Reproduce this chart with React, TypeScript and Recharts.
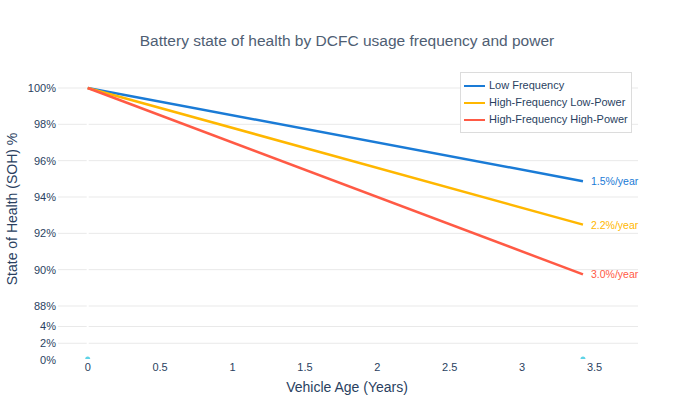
import { LineChart, Line, XAxis, YAxis, CartesianGrid, ReferenceLine } from 'recharts'

// vehicle age in years, SOH in percent
const years = [0, 3.42]
const lowFreq = [100, 94.87]
const hfLowPower = [100, 92.48]
const hfHighPower = [100, 89.74]
const breakMarks = [0, 0]

const seriesKeys = ['low', 'hfLow', 'hfHigh']
const seriesNames = ['Low Frequency', 'High-Frequency Low-Power', 'High-Frequency High-Power']
const seriesColors = ['#1a7bd6', '#ffb700', '#ff5a45']
const rateLabels = ['1.5%/year', '2.2%/year', '3.0%/year']

const upperTicks = [88, 90, 92, 94, 96, 98, 100]
const lowerTicks = [0, 2, 4]
const xTicks = [0, 0.5, 1, 1.5, 2, 2.5, 3, 3.5]

const data = years.map((x, i) => ({
  x,
  low: lowFreq[i],
  hfLow: hfLowPower[i],
  hfHigh: hfHighPower[i],
  mark: breakMarks[i],
}))

const FONT = '"Liberation Sans", Arial, Helvetica, sans-serif'
const TEXT = '#2a3f5f'
const GRID = '#e9e9e9'
const X_DOMAIN: [number, number] = [-0.205, 3.8]
const MARGIN_X = { left: 8, right: 56 }

const tickStyle = { fontSize: 11, fill: TEXT, fontFamily: FONT }

function rateLabel(idx: number) {
  return (props: any) => {
    if (props.index !== years.length - 1) return null
    return (
      <text
        x={props.x + 8}
        y={props.y}
        dy={4}
        fontSize={10.5}
        fontFamily={FONT}
        fill={seriesColors[idx]}
      >
        {rateLabels[idx]}
      </text>
    )
  }
}

function LegendBox() {
  return (
    <div
      style={{
        position: 'absolute',
        left: 460,
        top: 72,
        border: '1px solid #dcdcdc',
        background: '#fff',
        padding: '4px 3px 4px 3px',
        fontFamily: FONT,
        fontSize: 11,
        color: TEXT,
        lineHeight: '17px',
      }}
    >
      {seriesNames.map((name, i) => (
        <div key={name} style={{ display: 'flex', alignItems: 'center', whiteSpace: 'nowrap' }}>
          <span style={{ display: 'inline-block', width: 21, height: 2, background: seriesColors[i], marginRight: 4 }} />
          {name}
        </div>
      ))}
    </div>
  )
}

function HalfDot(props: any) {
  const { cx, cy } = props
  if (cx == null || cy == null) return null
  return <path d={`M${cx - 2.5},${cy - 1} a2.5,2.5 0 0 1 5,0 z`} fill="#5fd3e6" />
}

export default function App() {
  return (
    <div style={{ position: 'absolute', left: 0, top: 0, width: 694, height: 416, background: '#fff', fontFamily: FONT }}>
      <div
        style={{
          position: 'absolute',
          left: 0,
          width: 694,
          top: 32,
          textAlign: 'center',
          fontSize: 15.5,
          color: '#4f5e73',
        }}
      >
        Battery state of health by DCFC usage frequency and power
      </div>

      <div style={{ position: 'absolute', left: 0, top: 0 }}>
        <LineChart width={694} height={314} data={data} margin={{ top: 78, bottom: 1, ...MARGIN_X }}>
          <CartesianGrid vertical={false} stroke={GRID} horizontalValues={upperTicks} />
          <XAxis dataKey="x" type="number" domain={X_DOMAIN} hide allowDataOverflow />
          <YAxis
            domain={[87.615, 100.55]}
            ticks={upperTicks}
            interval={0}
            width={50}
            tick={tickStyle}
            tickFormatter={(v) => `${v}%`}
            axisLine={false}
            tickLine={false}
            tickSize={0}
            tickMargin={2}
            allowDataOverflow
          />
          <ReferenceLine x={0} stroke="#fff" strokeWidth={2} />
          {seriesKeys.map((k, i) => (
            <Line
              key={k}
              dataKey={k}
              name={seriesNames[i]}
              stroke={seriesColors[i]}
              strokeWidth={2.5}
              dot={false}
              activeDot={false}
              isAnimationActive={false}
              label={rateLabel(i)}
            />
          ))}
        </LineChart>
      </div>

      <div style={{ position: 'absolute', left: 0, top: 314 }}>
        <LineChart width={694} height={102} data={data} margin={{ top: 0, bottom: 36, ...MARGIN_X }}>
          <CartesianGrid vertical={false} stroke={GRID} horizontalValues={lowerTicks} />
          <XAxis
            dataKey="x"
            type="number"
            domain={X_DOMAIN}
            ticks={xTicks}
            interval={0}
            height={20}
            tick={tickStyle}
            axisLine={false}
            tickLine={false}
            tickSize={0}
            tickMargin={3}
            allowDataOverflow
          />
          <YAxis
            domain={[0, 5.5]}
            ticks={lowerTicks}
            interval={0}
            width={50}
            tick={tickStyle}
            tickFormatter={(v) => `${v}%`}
            axisLine={false}
            tickLine={false}
            tickSize={0}
            tickMargin={2}
            allowDataOverflow
          />
          <ReferenceLine y={0} stroke="#fff" strokeWidth={2} />
          <ReferenceLine x={0} stroke="#fff" strokeWidth={2} />
          <Line
            dataKey="mark"
            stroke="none"
            dot={<HalfDot />}
            activeDot={false}
            isAnimationActive={false}
            legendType="none"
          />
        </LineChart>
      </div>

      <LegendBox />

      <div style={{ position: 'absolute', left: 0, width: 694, top: 379, textAlign: 'center', fontSize: 14, color: TEXT }}>
        Vehicle Age (Years)
      </div>
      <div
        style={{
          position: 'absolute',
          left: 12,
          top: 209,
          transform: 'translate(-50%, -50%) rotate(-90deg)',
          whiteSpace: 'nowrap',
          fontSize: 14,
          color: TEXT,
        }}
      >
        State of Health (SOH) %
      </div>
    </div>
  )
}
